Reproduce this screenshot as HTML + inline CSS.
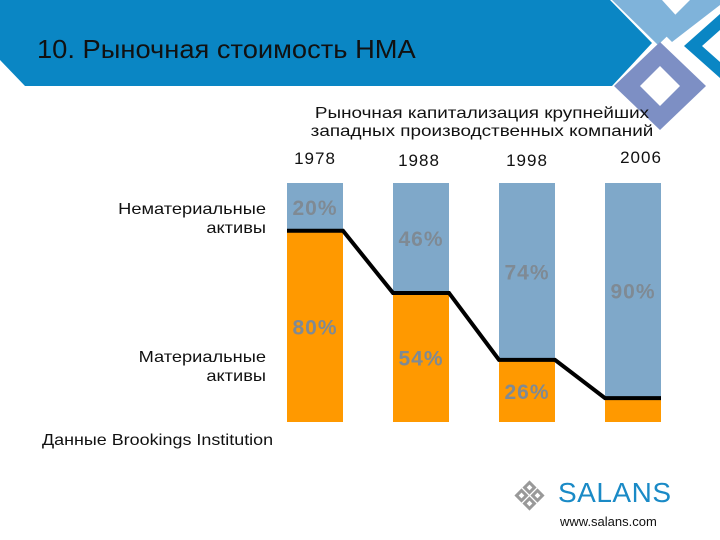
<!DOCTYPE html>
<html><head><meta charset="utf-8">
<style>
body{margin:0;width:720px;height:540px;background:#fff;overflow:hidden;font-family:"Liberation Sans",sans-serif;position:relative}
.t{position:absolute;white-space:nowrap}
</style></head><body>
<svg width="720" height="540" style="position:absolute;left:0;top:0">
  <polygon points="0,0 610,0 652,43 612,86 25,86 0,60" fill="#0a86c4"/>
  <polygon points="612,0 662,0 682,22 658,45" fill="#7fb3da"/>
  <polygon points="690,0 720,0 720,5 672,42 660,30" fill="#7fb3da"/>
  <polygon points="720,14 720,30 702,46 720,62 720,78 684,46" fill="#0a86c4"/>
  <polygon points="660,42 706,86 660,130 614,86" fill="#7d8fc4"/>
  <polygon points="660,66 680,86 660,106 640,86" fill="#fff"/>
  <g id="chart"></g>
  <g fill="none" stroke="#999" stroke-width="3">
    <rect x="526" y="484" width="7" height="7" transform="rotate(45 529.5 487.5)"/>
    <rect x="518" y="492" width="7" height="7" transform="rotate(45 521.5 495.5)"/>
    <rect x="534" y="492" width="7" height="7" transform="rotate(45 537.5 495.5)"/>
    <rect x="526" y="500" width="7" height="7" transform="rotate(45 529.5 503.5)"/>
  </g>
</svg>
<div class="t" style="left:37px;top:34px;font-size:26px;color:#111;transform:scaleX(1.05);transform-origin:0 0">10. Рыночная стоимость НМА</div>
<div class="t" style="left:302px;top:105px;width:360px;text-align:center;font-size:16px;line-height:18px;color:#111;transform:scaleX(1.18);transform-origin:50% 0">Рыночная капитализация крупнейших<br>западных производственных компаний</div>
<div class="t" style="left:100px;top:200px;width:166px;text-align:right;font-size:16px;line-height:19px;color:#111;transform:scaleX(1.14);transform-origin:100% 0">Нематериальные<br>активы</div>
<div class="t" style="left:100px;top:348px;width:166px;text-align:right;font-size:16px;line-height:19px;color:#111;transform:scaleX(1.14);transform-origin:100% 0">Материальные<br>активы</div>
<div class="t" style="left:42px;top:432px;font-size:16px;color:#111;transform:scaleX(1.12);transform-origin:0 0">Данные Brookings Institution</div>
<div class="t" style="left:558px;top:477px;font-size:28px;color:#1a8ac6;letter-spacing:0.5px">SALANS</div>
<div class="t" style="left:560px;top:514px;font-size:13px;color:#111">www.salans.com</div>
<script>
const years=["1978","1988","1998","2006"];
const intangible=[20,46,74,90];
const tangible=[80,54,26,10];
const showTangibleLabel=[true,true,true,false];
const ns="http://www.w3.org/2000/svg";
const g=document.getElementById('chart');
const top0=183,bot=422,H=bot-top0;
const xs=i=>287+i*106,bw=56;
const yv=v=>top0+H*v/100;
const yearY=[164,166,166,163];
const yearDx=[0,-2,0,8];
function mk(t,a){const e=document.createElementNS(ns,t);for(const k in a)e.setAttribute(k,a[k]);g.appendChild(e);return e;}
const pts=[];
years.forEach((y,i)=>{
  const x=xs(i),split=yv(intangible[i]);
  const r1=mk('rect',{x:x,y:top0,width:bw,height:split-top0,fill:'#7fa8c9'});
  
  
  const r2=mk('rect',{x:x,y:split,width:bw,height:bot-split,fill:'#ff9900'});
  
  
  pts.push([x,split],[x+bw,split]);
  const yt=mk('text',{x:x+bw/2+yearDx[i],y:yearY[i],'text-anchor':'middle','font-size':17,'letter-spacing':1,fill:'#111','font-family':'Liberation Sans'});
  yt.textContent=y;
  
  
  const t1=mk('text',{x:x+bw/2,y:(top0+split)/2+8,'text-anchor':'middle','font-size':21,'letter-spacing':1,'font-weight':'bold',fill:'#7f8a94','font-family':'Liberation Sans'});
  t1.textContent=intangible[i]+'%';
  
  
  if(showTangibleLabel[i]){
    const t2=mk('text',{x:x+bw/2,y:(split+bot)/2+8,'text-anchor':'middle','font-size':21,'letter-spacing':1,'font-weight':'bold',fill:'#7f8a94','font-family':'Liberation Sans'});
    t2.textContent=tangible[i]+'%';
    
    
  }
});
const pl=mk('polyline',{points:pts.map(p=>p.join(',')).join(' '),fill:'none',stroke:'#000','stroke-width':4});


</script>
</body></html>
